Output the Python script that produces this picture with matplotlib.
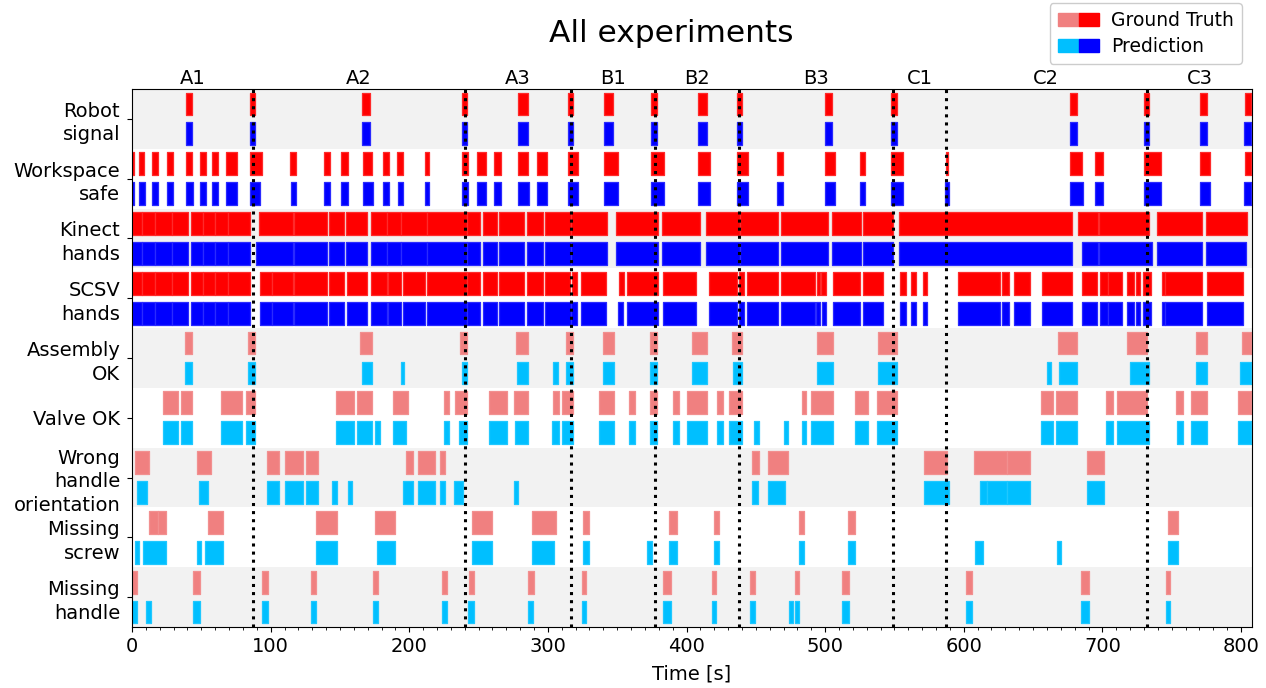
import matplotlib
matplotlib.use("Agg")
import matplotlib.pyplot as plt
from matplotlib.patches import Patch
from matplotlib.legend_handler import HandlerTuple
from matplotlib.ticker import MultipleLocator

# ---------------- data ----------------
row_labels = ["Robot\nsignal", "Workspace\nsafe", "Kinect\nhands", "SCSV\nhands",
              "Assembly\nOK", "Valve OK", "Wrong\nhandle\norientation",
              "Missing\nscrew", "Missing\nhandle"]

exp_names = ["A1", "A2", "A3", "B1", "B2", "B3", "C1", "C2", "C3"]
exp_bounds = [87, 240, 317, 377, 438, 549, 587, 732]
t_end = 808

robot_gt = [(38.7, 43.5), (85, 88.7), (166, 172), (238.3, 242), (278.7, 286), (314.3, 318.4),
            (340.5, 347.3), (374.5, 378.6), (408, 414.6), (436.3, 440), (500, 505.3),
            (547.4, 551.7), (676.3, 681.6), (730, 733.8), (770.6, 775.4), (803, 807.4)]
robot_pred = [(38.7, 43.5), (85, 88.7), (166, 172), (238.3, 242), (278.7, 285.5), (314.3, 318.4),
              (340.5, 347.3), (374.5, 378.6), (408, 414.6), (436.3, 440), (500, 505.3),
              (547.4, 551.7), (676.3, 682), (730, 733.8), (770.6, 775.4), (802, 807.4)]

workspace_gt = [(0, 1.2), (5.1, 8.9), (14.7, 18.5), (25.5, 29.8), (38.7, 43.5), (49, 53.4),
                (58, 62.3), (67.6, 75.5), (85.1, 93.6), (114.2, 118.1), (138.3, 142.9),
                (151, 155.6), (166.4, 173.4), (181.3, 185.2), (191.4, 195.3), (211.6, 214.5),
                (238.3, 242.6), (249.1, 255.4), (261.2, 266.2), (278.7, 286), (292, 299.6),
                (314.3, 322), (340.5, 350.9), (374.5, 384), (408, 416.6), (436.3, 444),
                (465.1, 469.9), (500, 507.2), (524.8, 528.9), (547.4, 556), (587, 588.5),
                (676.3, 685.2), (694.8, 700.1), (730, 742.2), (770.6, 777.3), (803, 807.4)]
workspace_pred = [(0, 1.2), (5.1, 9.3), (14.7, 18.5), (25.5, 29.8), (38.7, 44), (49, 53.4),
                  (58, 62.3), (67.6, 75.5), (85.1, 92.5), (114.8, 118.1), (138.3, 142.9),
                  (151, 155.6), (166.4, 174), (181.3, 185.2), (192, 195.3), (211.6, 214.5),
                  (238.3, 242.6), (249.1, 255.4), (261.2, 266.2), (278.7, 286.5), (292, 299.6),
                  (314.3, 322), (340.5, 350.9), (374.5, 384), (408, 416.6), (436.3, 444),
                  (465.6, 469.9), (500, 507.2), (524.8, 528.9), (547.4, 556), (586.5, 589),
                  (676.3, 686), (694.8, 700.1), (730, 742), (770.6, 777.8), (802, 807.4)]

kinect_gt = [(0, 7), (7, 16.6), (16.6, 28.6), (28.6, 40.6), (42.6, 51.5), (51.5, 59.9),
             (59.9, 69.5), (69.5, 85.1), (91.9, 115.9), (116.9, 140.5), (142.1, 153),
             (154.6, 169.3), (172.2, 183.7), (183.7, 194.1), (194.1, 212.6), (212.6, 241.5),
             (241.5, 251.1), (253, 263.1), (265, 282.8), (284.8, 296.3), (298, 317),
             (317, 342.5), (349.2, 379.7), (382.2, 409.8), (414.1, 438.7), (438.7, 466.3),
             (468, 501.9), (504.8, 526), (527, 549.3), (553.6, 678), (682.3, 696.5),
             (697.9, 733.3), (739.3, 772.2), (774.9, 804.2)]
kinect_pred = [(0, 7), (7, 16.6), (16.6, 28.6), (28.6, 40.6), (42.6, 51.5), (51.5, 59.9),
               (59.9, 69.5), (69.5, 85.1), (89.5, 115.9), (116.9, 140.5), (142.1, 153),
               (154.6, 169.3), (172.2, 183.7), (183.7, 194.1), (194.1, 212.6), (212.6, 241.5),
               (241.5, 251.1), (253, 263.1), (265, 282.8), (284.8, 296.3), (298, 317),
               (317, 342.5), (349.2, 379.7), (382.2, 409.8), (414.1, 438.7), (438.7, 466.3),
               (468, 501.9), (504.8, 526), (527, 549.3), (553.6, 678), (685, 696.5),
               (697.9, 735.5), (739.3, 772.2), (774.5, 803.5)]

scsv_gt = [(0, 7), (7, 16.6), (16.6, 28.6), (28.6, 40.6), (42.6, 51.5), (51.5, 59.9),
           (59.9, 69.5), (69.5, 85.1), (92.1, 100.8), (100.8, 115.9), (116.9, 140.5),
           (142.4, 153), (154.9, 169.3), (172.2, 183.7), (184.5, 194.1), (195.3, 211.4),
           (213.1, 241.5), (241.5, 251.1), (253, 263.1), (265, 282.8), (284.8, 296.3),
           (298, 316), (317.2, 320.8), (323.7, 342), (351.6, 355), (356.9, 379.7),
           (382.9, 406.7), (416.3, 436.3), (438, 441.2), (443.5, 466.3), (468, 492.8),
           (494, 496.4), (496.9, 500.7), (505.5, 525.3), (527.2, 541.4), (554.1, 558.2),
           (561.8, 565.7), (570.5, 573.8), (596.2, 626.3), (627.9, 632.8), (636.4, 647.9),
           (656.8, 678), (685.2, 696), (698.4, 704.4), (704.4, 714.5), (717.7, 722.5),
           (724.2, 726.8), (729.2, 735), (742.9, 745.3), (745.3, 772.2), (775.8, 801.1)]
scsv_pred = [(0, 7), (7, 16.6), (16.6, 28.6), (28.6, 40.6), (42.6, 51.5), (51.5, 59.9),
             (59.9, 69.5), (69.5, 85.1), (92.1, 100.8), (100.8, 115.9), (116.9, 140.5),
             (142.4, 153), (154.9, 169.3), (172.2, 183.7), (184.5, 194.1), (195.3, 211.4),
             (213.1, 241.5), (241.5, 251.1), (253, 263.1), (265, 282.8), (284.8, 296.3),
             (298, 317), (317, 320.8), (323.7, 342), (350.8, 354.5), (356.9, 379.7),
             (382.9, 406.7), (416.3, 436.3), (438, 441.2), (443.5, 466.3), (468, 492.8),
             (493.5, 496.4), (497.5, 500.7), (505.5, 525.3), (527.2, 541.4), (554.1, 558.2),
             (561.8, 565.7), (570.5, 573.8), (596.2, 626.3), (627.9, 632.8), (636.4, 647.9),
             (656.8, 678), (685.2, 696), (698.4, 704.4), (704.4, 714.5), (717.7, 722.5),
             (724.2, 726.8), (729.2, 735), (742.9, 745.3), (745.3, 772.2), (775.8, 801.1)]

assembly_gt = [(38.2, 43.5), (83.9, 88.7), (164.5, 172.9), (236.7, 242), (277, 286),
               (313.1, 318.4), (339.6, 347.8), (373.3, 379), (403.8, 415.1), (432.7, 440.3),
               (494, 505.6), (538.5, 551.7), (668.3, 682), (718.1, 732.1), (767.7, 775.4),
               (800.6, 807.4)]
assembly_pred = [(38.2, 43.5), (83.9, 88.7), (166, 172.9), (193.8, 196.5), (238, 242),
                 (277.5, 285.5), (304, 307.1), (313.1, 318.4), (339.6, 347.8), (373.3, 379),
                 (403.8, 415.1), (433.5, 440.3), (494, 505.6), (538.5, 551.7), (660, 663),
                 (669, 682), (720, 733.3), (767.7, 775.4), (799, 807.4)]

valve_gt = [(22.6, 33.4), (35.4, 43.5), (64.2, 79.1), (82, 88.7), (147, 160.2), (162.6, 172.9),
            (188.5, 199.4), (225.4, 229), (233, 241.5), (257.8, 270.3), (275.8, 286),
            (304, 308.1), (310, 318.4), (337.2, 347.8), (358.6, 362.9), (373.3, 379),
            (390.6, 394.9), (400.6, 415.1), (421.8, 426.2), (431, 440.3), (483.2, 486),
            (489.9, 505.6), (521.2, 531.2), (537.3, 551.7), (655.6, 664.3), (666.4, 682),
            (702.5, 707.6), (710.5, 732.1), (753, 758.5), (763.8, 775.8), (797.8, 807.4)]
valve_pred = [(22.6, 33.4), (35.4, 43.5), (64.2, 79.1), (82, 88.7), (147, 160.2), (162.6, 172.9),
              (175.3, 178.9), (188.5, 197.7), (225.4, 229), (236.2, 241.5), (257.8, 270.3),
              (276.5, 286), (302.8, 308.3), (310, 318.4), (337.2, 347.8), (358.6, 362.9),
              (373.3, 379), (390.6, 394.9), (400.6, 415.1), (421.8, 426.2), (431, 440.3),
              (448.8, 452.4), (470.4, 473.5), (483.2, 486), (489.9, 505.6), (521.2, 531.2),
              (537.3, 551.7), (655.6, 664.3), (666.4, 682), (702.5, 707.6), (710.5, 733.3),
              (754, 758.5), (763.8, 775.8), (797.8, 807.4)]

wrong_gt = [(2.2, 12.5), (46.7, 56.8), (97.2, 106.1), (110.4, 123.2), (125.5, 134),
            (197.7, 202.5), (206.1, 218.6), (222.2, 225.8), (447.1, 452.4), (459.1, 473.5),
            (571, 588), (607.7, 631), (631, 647.9), (689.2, 701.3)]
wrong_pred = [(3.4, 10.6), (48.3, 54.6), (97.2, 106.1), (110.4, 123.2), (125.5, 134),
              (144.5, 147.7), (155.6, 159), (195.7, 202.5), (206.1, 218.6), (222.2, 225.8),
              (232.6, 239.1), (275.8, 278.7), (447.1, 451.5), (459.1, 471.1), (571, 589),
              (611.8, 617), (617, 631), (631, 647.9), (689.2, 701.3)]

screw_gt = [(12.5, 18.5), (18.5, 24.5), (54.6, 65.9), (132.8, 147.7), (175.3, 190),
            (245.1, 259.5), (288.4, 305.9), (325.6, 329.7), (387.7, 393), (420.1, 423.7),
            (481.5, 485.1), (516.4, 521.6), (747.7, 754.5)]
screw_pred = [(2.2, 5.3), (8.2, 24.5), (46.7, 49.6), (52.7, 65.9), (132.8, 147.7), (176.5, 190),
              (245.1, 259.5), (288.4, 304.5), (325.6, 329.7), (371.3, 375), (387.7, 393),
              (420.1, 423.7), (481.5, 485.1), (516.4, 521.6), (608.2, 614.2), (667.2, 670.3),
              (747.7, 754.5)]

handle_gt = [(0, 3.4), (44.2, 49.1), (93.6, 98.3), (128.9, 132.5), (173.6, 177.7),
             (223.4, 227), (243.1, 247), (285.9, 290), (324.4, 327.6), (382.9, 388.9),
             (418.2, 421.1), (445.9, 449.5), (478.4, 481.5), (512, 517.5), (601.7, 606.3),
             (684.5, 690.7), (745.8, 748.9)]
handle_pred = [(0, 3.4), (10.1, 13.5), (44.2, 49.1), (93.6, 98.3), (128.9, 132.5),
               (173.6, 177.7), (223.4, 227), (242.4, 247), (285.9, 289.6), (324.4, 327.6),
               (382.9, 388.9), (418.2, 421.1), (445.9, 449.5), (474.2, 477.1), (478.4, 481.5),
               (512, 517.5), (601.7, 606.3), (684.5, 690.7), (745.8, 748.9)]

rows_gt = [robot_gt, workspace_gt, kinect_gt, scsv_gt, assembly_gt, valve_gt, wrong_gt,
           screw_gt, handle_gt]
rows_pred = [robot_pred, workspace_pred, kinect_pred, scsv_pred, assembly_pred, valve_pred,
             wrong_pred, screw_pred, handle_pred]

# ---------------- style ----------------
C_GT_IN, C_PRED_IN = "#ff0000", "#0000ff"        # input signals
C_GT_OUT, C_PRED_OUT = "#f08080", "#00bfff"      # outputs
E_GT_IN, E_PRED_IN = "#ff2a2a", "#2a2aff"
E_GT_OUT, E_PRED_OUT = "#f29090", "#20c8ff"
BAND = "#f2f2f2"
FS = 14

fig = plt.figure(figsize=(12.66, 6.88), dpi=100)
ax = fig.add_axes([0.1043, 0.0887, 0.8847, 0.7819])

n = len(row_labels)
for i in range(n):
    if i % 2 == 0:
        ax.axhspan(i, i + 1, color=BAND, zorder=0, lw=0)
    if i < 4:
        cg, cp, eg, ep = C_GT_IN, C_PRED_IN, E_GT_IN, E_PRED_IN
    else:
        cg, cp, eg, ep = C_GT_OUT, C_PRED_OUT, E_GT_OUT, E_PRED_OUT
    for segs, yoff, fc, ec in ((rows_gt[i], 0.06, cg, eg), (rows_pred[i], 0.56, cp, ep)):
        coll = ax.broken_barh([(s, e - s) for s, e in segs], (i + yoff, 0.38),
                              facecolors=fc, edgecolors=ec, linewidths=0.9, zorder=2)
        coll.set_joinstyle("round")

for b in exp_bounds:
    ax.axvline(b, color="black", ls=":", lw=2.2, zorder=3)

edges = [0] + exp_bounds + [t_end]
for k, name in enumerate(exp_names):
    ax.text((edges[k] + edges[k + 1]) / 2, -0.17, name, ha="center", va="center",
            fontsize=FS)

ax.set_xlim(0, t_end)
ax.set_ylim(n, 0)
ax.set_yticks([i + 0.5 for i in range(n)])
ax.set_yticklabels(row_labels, fontsize=FS, linespacing=1.3)
ax.tick_params(axis="y", pad=5)
ax.xaxis.set_major_locator(MultipleLocator(100))
ax.xaxis.set_minor_locator(MultipleLocator(10))
ax.tick_params(axis="x", labelsize=FS)
ax.set_xlabel("Time [s]", fontsize=FS, labelpad=6)

fig.text(0.530, 0.952, "All experiments", ha="center", va="center", fontsize=22.5)

h_gt = (Patch(facecolor=C_GT_OUT, edgecolor=C_GT_OUT), Patch(facecolor=C_GT_IN, edgecolor=C_GT_IN))
h_pr = (Patch(facecolor=C_PRED_OUT, edgecolor=C_PRED_OUT), Patch(facecolor=C_PRED_IN, edgecolor=C_PRED_IN))
fig.legend([h_gt, h_pr], ["Ground Truth", "Prediction"],
           handler_map={tuple: HandlerTuple(ndivide=None, pad=0)},
           loc="upper right", bbox_to_anchor=(0.981, 0.996), borderaxespad=0,
           fontsize=13.5, handlelength=2.2, handletextpad=0.6, borderpad=0.45,
           labelspacing=0.35, framealpha=1, edgecolor="#cccccc")

fig.savefig("out.png", dpi=100)
